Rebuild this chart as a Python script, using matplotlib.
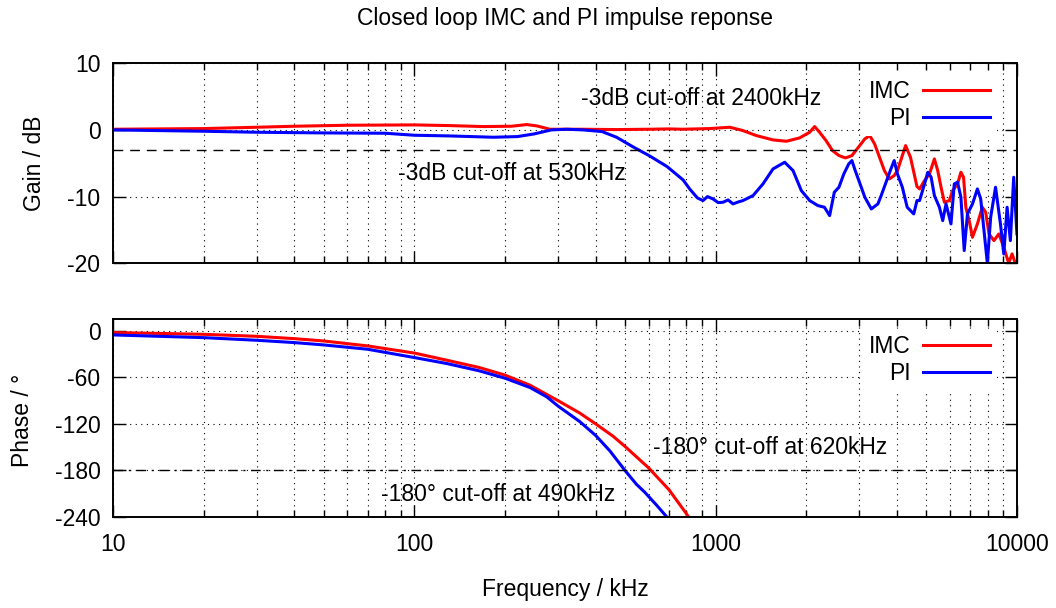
import matplotlib
matplotlib.use('Agg')
from matplotlib import pyplot as plt
from matplotlib.ticker import LogLocator, NullFormatter

# gain (dB), frequency in kHz
f_gain_imc = [10, 20, 30, 40, 60, 100, 130, 170, 210, 236, 255, 282, 363, 469, 604, 700,
              780, 955, 1114, 1232, 1365, 1551, 1717, 1900, 2052, 2131, 2213, 2325, 2443,
              2566, 2697, 2834, 2977, 3128, 3247, 3370, 3499, 3632, 3771, 3914, 4013, 4166,
              4271, 4433, 4659, 4753, 4936, 5125, 5322, 5459, 5600, 5744, 5965, 6118, 6353,
              6517, 6651, 6767, 6941, 7120, 7393, 7677, 7875, 8078, 8388, 8710, 9044, 9391,
              9633, 9881, 10000]
gain_imc = [0.1, 0.2, 0.4, 0.55, 0.7, 0.75, 0.65, 0.5, 0.55, 0.8, 0.6, 0.1, 0.1, 0.05, 0.1, 0.15,
            0.1, 0.2, 0.4, -0.1, -0.85, -1.5, -1.7, -1.2, -0.35, 0.5, -0.35, -1.6, -3.1,
            -3.85, -4.2, -3.85, -2.6, -1.35, -0.85, -2.1, -4.1, -6.1, -7.35, -6.85, -6.1, -3.85,
            -2.35, -4.1, -8.5, -8.85, -7.6, -6.6, -4.35, -6.1, -8.6, -10.85, -10.6, -9.1, -8.1,
            -6.35, -7.1, -11.6, -13.6, -16.1, -14.1, -11.6, -12.35, -15.6, -16.6, -15.6, -17.6, -20.0,
            -18.6, -20.0, -21.0]

f_gain_pi = [10, 20, 30, 50, 80, 100, 130, 183, 220, 250, 285, 320, 363, 420, 469, 530, 604,
             690, 780, 820, 870, 908, 940, 980, 1020, 1058, 1100, 1142, 1190, 1232, 1331, 1436,
             1551, 1695, 1807, 1925, 2052, 2185, 2297, 2390, 2477, 2566, 2664, 2766, 2834,
             2906, 3016, 3128, 3287, 3456, 3544, 3678, 3818, 3914, 4013, 4166, 4323, 4545,
             4659, 4753, 4936, 5061, 5191, 5322, 5530, 5672, 5818, 6041, 6196, 6353, 6517,
             6684, 6853, 7120, 7393, 7582, 7776, 7976, 8181, 8493, 8818, 9044, 9276, 9511,
             9757, 10000]
gain_pi = [0.0, -0.2, -0.35, -0.45, -0.5, -0.8, -0.9, -1.1, -1.0, -0.6, 0.0, 0.1, 0.0, -0.25,
           -1.1, -2.5, -3.9, -5.5, -7.5, -8.85, -10.2, -10.6, -10.0, -10.35, -10.9, -10.85, -10.5,
           -11.1, -10.8, -10.6, -9.85, -8.1, -5.85, -4.85, -6.1, -9.1, -10.6, -11.35, -11.6,
           -12.85, -9.35, -8.6, -6.6, -5.1, -4.6, -6.1, -8.1, -10.1, -11.85, -11.1, -9.85,
           -7.85, -5.85, -4.6, -6.6, -8.6, -11.6, -12.6, -10.6, -10.6, -8.1, -6.35, -7.1,
           -9.85, -11.6, -13.6, -11.1, -14.1, -8.1, -7.85, -10.1, -18.1, -12.6, -11.1, -8.85,
           -10.35, -15.1, -20.0, -13.1, -8.6, -14.1, -18.6, -11.6, -16.6, -7.1, -15.6]

# phase (degrees)
f_phase_imc = [10, 20, 30, 40, 50, 70, 100, 128, 164, 200, 242, 300, 354, 400, 457, 500,
               600, 700, 800, 830]
phase_imc = [-2, -4.3, -6.9, -9.9, -12.9, -19.3, -28.5, -37.7, -47.1, -57, -70, -90,
             -106, -120, -136, -149, -177, -205, -236, -246]
f_phase_pi = [10, 20, 30, 40, 50, 70, 100, 128, 164, 200, 242, 275, 300, 354, 400, 446, 500,
              546, 581, 637, 688]
phase_pi = [-5.1, -8.6, -12, -15, -18, -23.6, -34.3, -42, -51.4, -61, -73, -85, -97,
            -117, -135, -155, -180, -198, -208, -225, -240]

xticks = [10, 100, 1000, 10000]
gain_ticks = [-20, -10, 0, 10]
phase_ticks = [-240, -180, -120, -60, 0]

plt.rcParams['font.family'] = ['Liberation Sans', 'DejaVu Sans']
fs = 16.5

fig = plt.figure(figsize=(10.56, 6.08), dpi=100)
ax1 = fig.add_axes([0.107, 0.567, 0.856, 0.329])
ax2 = fig.add_axes([0.107, 0.150, 0.856, 0.326])

grid_style = dict(color='black', linestyle=(0, (1, 4)), linewidth=0.8)

def style_axis(ax, yticks, show_x):
    ax.set_xscale('log')
    ax.set_xlim(10, 10000)
    ax.set_xticks(xticks)
    ax.set_xticklabels([str(t) for t in xticks] if show_x else [])
    ax.xaxis.set_minor_locator(LogLocator(base=10, subs=range(2, 10)))
    ax.xaxis.set_minor_formatter(NullFormatter())
    ax.set_yticks(yticks)
    ax.set_yticklabels([str(t) for t in yticks])
    ax.tick_params(which='both', direction='in', top=True, right=True, labelsize=fs, width=1)
    ax.tick_params(which='major', length=9)
    ax.tick_params(which='minor', length=5)
    ax.tick_params(axis='x', pad=12)
    ax.tick_params(axis='y', pad=9)
    ax.grid(True, which='major', **grid_style)
    ax.grid(True, which='minor', axis='x', **grid_style)
    for s in ax.spines.values():
        s.set_linewidth(1.4)

style_axis(ax1, gain_ticks, False)
ax1.set_ylim(-20, 10)
ax1.plot(f_gain_imc, gain_imc, color='#ff0000', lw=2.2, label='IMC')
ax1.plot(f_gain_pi, gain_pi, color='#0000ff', lw=2.2, label='PI')
ax1.axhline(-3, color='black', lw=1, linestyle=(0, (7, 5)))
ax1.text(358, 3.8, '-3dB cut-off at 2400kHz', fontsize=fs, va='baseline')
ax1.text(88.3, -7.5, '-3dB cut-off at 530kHz', fontsize=fs, va='baseline')

style_axis(ax2, phase_ticks, True)
ax2.set_ylim(-240, 16)
ax2.plot(f_phase_imc, phase_imc, color='#ff0000', lw=2.2, label='IMC')
ax2.plot(f_phase_pi, phase_pi, color='#0000ff', lw=2.2, label='PI')
ax2.axhline(-180, color='black', lw=1, linestyle=(0, (7, 4, 1.5, 4)))
ax2.text(619.5, -159, '-180° cut-off at 620kHz', fontsize=fs, va='baseline')
ax2.text(77.3, -219, '-180° cut-off at 490kHz', fontsize=fs, va='baseline')

for ax in (ax1, ax2):
    leg = ax.legend(loc='upper right', bbox_to_anchor=(0.978, 0.95), fontsize=fs,
                    markerfirst=False, handlelength=2.95, handletextpad=0.5,
                    labelspacing=0.15, borderpad=0.3, borderaxespad=0,
                    frameon=True, fancybox=False, framealpha=1)
    leg.get_frame().set_edgecolor('none')
    leg.get_frame().set_facecolor('white')
    for t in leg.get_texts():
        t.set_ha('right')

fig.text(0.535, 0.970, 'Closed loop IMC and PI impulse reponse', fontsize=fs, ha='center', va='center')
fig.text(0.535, 0.030, 'Frequency / kHz', fontsize=fs, ha='center', va='center')
fig.text(0.033, 0.732, 'Gain / dB', fontsize=fs, ha='center', va='center', rotation=90)
fig.text(0.021, 0.309, 'Phase / °', fontsize=fs, ha='center', va='center', rotation=90)

plt.savefig('out.png', dpi=100)
